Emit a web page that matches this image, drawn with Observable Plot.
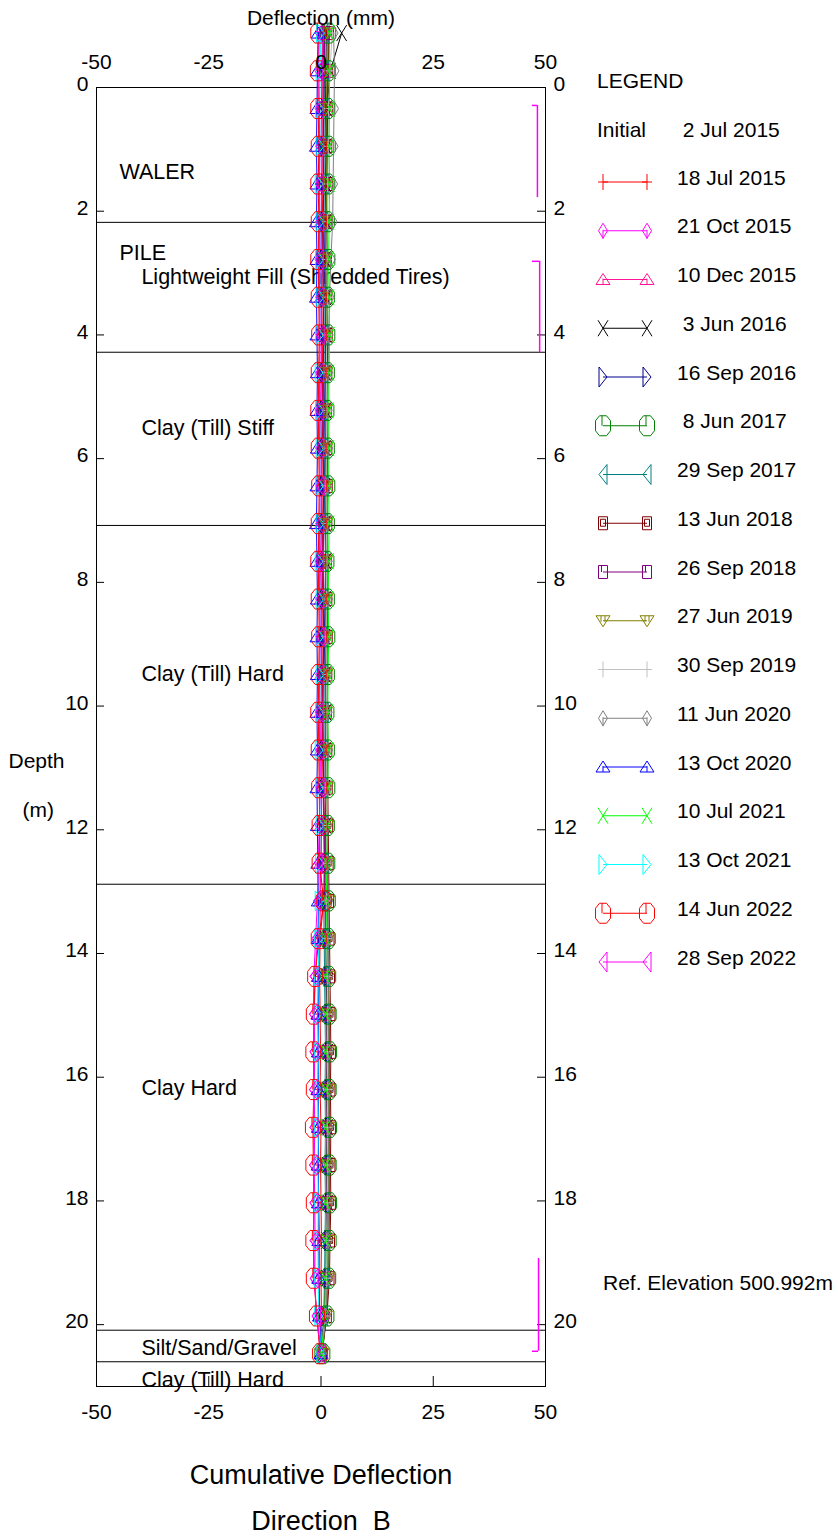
<!DOCTYPE html>
<html><head><meta charset="utf-8">
<script src="https://cdn.jsdelivr.net/npm/d3@7"></script>
<script src="https://cdn.jsdelivr.net/npm/@observablehq/plot@0.6"></script>
<style>body{margin:0;background:#fff} svg text{white-space:pre}</style>
</head><body><div id="chart"></div>
<script>
// ---------- DATA ----------
const depths = [-0.88,-0.27,0.34,0.95,1.56,2.17,2.78,3.39,4.00,4.61,5.22,5.83,6.44,7.05,7.66,8.27,8.88,9.49,10.10,10.71,11.32,11.93,12.54,13.15,13.76,14.37,14.98,15.59,16.20,16.81,17.42,18.03,18.64,19.25,19.86,20.47];

const initialDate = "2 Jul 2015";
const seriesNames = ["18 Jul 2015","21 Oct 2015","10 Dec 2015","3 Jun 2016","16 Sep 2016","8 Jun 2017","29 Sep 2017","13 Jun 2018","26 Sep 2018","27 Jun 2019","30 Sep 2019","11 Jun 2020","13 Oct 2020","10 Jul 2021","13 Oct 2021","14 Jun 2022","28 Sep 2022"];
const seriesColors = ["#ff0000","#ff00ff","#ff1493","#000000","#00008b","#008000","#008080","#800000","#800080","#808000","#c0c0c0","#808080","#0000ff","#00ff00","#00ffff","#ff0000","#ff00ff"];

const s_18Jul2015 = [0.6,0.5,0.4,0.5,0.4,0.3,0.4,0.5,0.4,0.3,0.4,0.3,0.2,0.3,0.4,0.3,0.2,0.3,0.4,0.3,0.5,0.8,1.0,0.6,-0.2,-0.3,-0.2,-0.1,-0.2,0.0,-0.1,0.0,0.1,0.0,0.1,0.0];
const s_21Oct2015 = [0.3,0.2,0.1,0.0,0.1,0.0,-0.1,0.0,0.1,0.0,-0.1,0.0,0.1,0.0,-0.1,0.0,0.0,0.1,0.0,-0.1,0.0,0.1,0.0,-0.3,-0.8,-1.3,-1.5,-1.4,-1.5,-1.4,-1.5,-1.4,-1.3,-1.4,-1.0,-0.1];
const s_10Dec2015 = [0.4,0.3,0.2,0.3,0.2,0.1,0.2,0.1,0.2,0.1,0.0,0.1,0.2,0.1,0.0,0.1,0.2,0.1,0.0,0.1,0.2,0.1,0.0,-0.1,-0.3,-0.6,-0.7,-0.6,-0.7,-0.6,-0.5,-0.6,-0.5,-0.4,-0.3,0.0];
const s_3Jun2016 = [4.6,2.1,1.3,1.2,1.1,1.2,1.0,1.1,1.2,1.0,1.1,1.0,0.9,1.0,1.1,1.0,0.9,1.0,1.1,1.0,0.9,1.1,1.2,1.1,1.0,1.2,1.4,1.5,1.4,1.5,1.4,1.5,1.3,1.2,0.9,0.1];
const s_16Sep2016 = [1.2,1.1,1.0,0.9,1.0,0.9,0.8,0.9,1.0,0.9,0.8,0.9,0.8,0.9,1.0,0.9,0.8,0.9,1.0,0.9,1.0,1.1,1.2,1.3,1.4,1.6,1.8,1.9,1.8,1.9,1.8,1.9,1.7,1.6,1.1,0.2];
const s_8Jun2017 = [1.6,1.5,1.4,1.5,1.4,1.3,1.4,1.3,1.4,1.3,1.2,1.3,1.4,1.3,1.2,1.3,1.4,1.3,1.2,1.3,1.4,1.3,1.4,1.5,1.5,1.6,1.7,1.8,1.7,1.8,1.7,1.8,1.7,1.6,1.2,0.3];
const s_29Sep2017 = [0.9,0.8,0.7,0.6,0.7,0.6,0.5,0.6,0.7,0.6,0.5,0.6,0.7,0.6,0.5,0.6,0.5,0.6,0.7,0.6,0.5,0.6,0.7,0.6,0.7,0.8,0.9,1.0,0.9,1.0,0.9,1.0,0.9,0.8,0.6,0.1];
const s_13Jun2018 = [1.8,1.6,1.5,1.4,1.5,1.4,1.3,1.4,1.5,1.4,1.3,1.4,1.5,1.4,1.3,1.4,1.5,1.4,1.3,1.4,1.5,1.6,1.7,1.8,1.9,2.0,2.1,2.2,2.1,2.2,2.1,2.2,2.0,1.9,1.3,0.2];
const s_26Sep2018 = [0.8,0.7,0.6,0.5,0.6,0.5,0.4,0.5,0.6,0.5,0.4,0.5,0.6,0.5,0.4,0.5,0.6,0.5,0.4,0.5,0.6,0.7,0.8,0.9,1.0,1.1,1.2,1.3,1.2,1.3,1.2,1.3,1.1,1.0,0.7,0.1];
const s_27Jun2019 = [1.4,1.3,1.2,1.1,1.2,1.1,1.0,1.1,1.2,1.1,1.0,1.1,1.2,1.1,1.0,1.1,1.2,1.1,1.0,1.1,1.2,1.3,1.4,1.5,1.5,1.6,1.7,1.8,1.7,1.8,1.7,1.8,1.6,1.5,1.0,0.2];
const s_30Sep2019 = [2.5,2.0,1.7,1.6,1.5,1.4,1.3,1.4,1.3,1.2,1.3,1.2,1.1,1.2,1.3,1.2,1.1,1.2,1.3,1.2,1.1,1.2,1.3,1.2,1.3,1.4,1.5,1.4,1.5,1.4,1.5,1.4,1.3,1.2,0.9,0.1];
const s_11Jun2020 = [2.8,3.0,2.9,2.8,2.7,2.6,2.2,1.9,1.7,1.6,1.5,1.6,1.5,1.4,1.5,1.6,1.5,1.4,1.5,1.6,1.5,1.4,1.5,1.6,1.6,1.7,1.8,1.7,1.8,1.7,1.8,1.7,1.6,1.5,1.1,0.2];
const s_13Oct2020 = [-0.6,-0.8,-0.9,-1.0,-0.9,-1.0,-0.9,-1.0,-0.9,-0.8,-0.9,-0.8,-0.9,-1.0,-0.9,-0.8,-0.9,-0.8,-0.9,-0.8,-0.9,-0.8,-0.7,-0.6,-0.6,-0.5,-0.6,-0.5,-0.6,-0.5,-0.6,-0.5,-0.4,-0.5,-0.3,0.0];
const s_10Jul2021 = [1.9,1.8,1.9,1.8,1.9,1.8,1.7,1.8,1.9,1.8,1.7,1.8,1.7,1.8,1.7,1.6,1.7,1.6,1.5,1.6,1.5,1.4,1.3,1.2,1.1,1.0,1.1,1.0,1.1,1.0,1.1,1.0,1.1,1.0,0.8,0.1];
const s_13Oct2021 = [-0.1,-0.2,-0.3,-0.2,-0.4,-0.2,-0.3,-0.2,-0.3,-0.4,-0.3,-0.2,-0.3,-0.2,-0.4,-0.2,-0.3,-0.2,-0.3,-0.4,-0.3,-0.2,-0.3,-0.4,-0.5,-0.6,-0.7,-0.6,-0.7,-0.6,-0.7,-0.6,-0.7,-0.6,-0.5,0.0];
const s_14Jun2022 = [-0.6,-0.7,-0.6,-0.5,-0.6,-0.5,-0.6,-0.5,-0.4,-0.5,-0.6,-0.5,-0.4,-0.5,-0.6,-0.5,-0.4,-0.5,-0.6,-0.5,-0.4,-0.3,-0.3,0.6,-0.5,-1.3,-1.6,-1.7,-1.6,-1.8,-1.7,-1.6,-1.7,-1.6,-0.9,-0.2];
const s_28Sep2022 = [-0.4,-0.5,-0.4,-0.3,-0.4,-0.3,-0.4,-0.3,-0.2,-0.3,-0.4,-0.3,-0.2,-0.3,-0.4,-0.3,-0.2,-0.3,-0.4,-0.3,-0.2,-0.4,-0.6,-0.8,-1.2,-1.6,-1.7,-1.6,-1.7,-1.6,-1.7,-1.6,-1.6,-1.5,-1.0,0.1];

const seriesValues = [s_18Jul2015,s_21Oct2015,s_10Dec2015,s_3Jun2016,s_16Sep2016,s_8Jun2017,s_29Sep2017,s_13Jun2018,s_26Sep2018,s_27Jun2019,s_30Sep2019,s_11Jun2020,s_13Oct2020,s_10Jul2021,s_13Oct2021,s_14Jun2022,s_28Sep2022];

const layerBoundaries = [2.18, 4.28, 7.08, 12.88, 20.09, 20.6];
const layerLabels = ["WALER","PILE","Lightweight Fill (Shredded Tires)","Clay (Till) Stiff","Clay (Till) Hard","Clay Hard","Silt/Sand/Gravel","Clay (Till) Hard"];
const layerLabelDepths = [1.37, 2.68, 3.07, 5.5, 9.49, 16.18, 20.38, 20.89];
const layerLabelX = [-44.9, -44.9, -40, -40, -40, -40, -40, -40];

const bracketX = [48.2, 48.7, 48.45];
const bracketTop = [0.29, 2.81, 18.93];
const bracketBottom = [1.78, 4.29, 20.43];
const bracketHookDepth = [0.29, 2.81, 20.43];
const bracketHookX = 47.1;

const xTicks = [-50, -25, 0, 25, 50];
const yTicks = [0, 2, 4, 6, 8, 10, 12, 14, 16, 18, 20];
const refElevation = "Ref. Elevation 500.992m";

// ---------- SYMBOLS ----------
const S = (f) => ({draw: f});
const symPlus = S(c => {c.moveTo(-5,0);c.lineTo(5,0);c.moveTo(0,-8);c.lineTo(0,8);});
const symDiamond = S(c => {c.moveTo(0,-7.5);c.lineTo(4.5,0);c.lineTo(0,7.5);c.lineTo(-4.5,0);c.closePath();c.moveTo(0,-1);c.lineTo(0,8);});
const symTriUp = S(c => {c.moveTo(0,-6);c.lineTo(7,5);c.lineTo(-7,5);c.closePath();c.moveTo(0,-1);c.lineTo(0,5);});
const symX = S(c => {c.moveTo(-5,-8);c.lineTo(5,8);c.moveTo(5,-8);c.lineTo(-5,8);});
const symTriRight = S(c => {c.moveTo(-4,-10);c.lineTo(4,0);c.lineTo(-4,10);c.closePath();});
const symOct = S(c => {c.moveTo(-3.5,-10);c.lineTo(3.5,-10);c.lineTo(7.5,-5);c.lineTo(7.5,5);c.lineTo(3.5,10);c.lineTo(-3.5,10);c.lineTo(-7.5,5);c.lineTo(-7.5,-5);c.closePath();c.moveTo(-1,-10);c.lineTo(-1,0);});
const symTriLeft = S(c => {c.moveTo(4,-10);c.lineTo(-4,0);c.lineTo(4,10);c.closePath();});
const symSqSq = S(c => {c.moveTo(-4.5,-6.5);c.lineTo(4.5,-6.5);c.lineTo(4.5,6.5);c.lineTo(-4.5,6.5);c.closePath();c.moveTo(-2.5,-4);c.lineTo(2.5,-4);c.lineTo(2.5,3);c.lineTo(-2.5,3);c.closePath();});
const symSq = S(c => {c.moveTo(-4.5,-6.5);c.lineTo(4.5,-6.5);c.lineTo(4.5,6.5);c.lineTo(-4.5,6.5);c.closePath();c.moveTo(-1.5,-6.5);c.lineTo(-1.5,0);});
const symTriDown = S(c => {c.moveTo(-7,-5);c.lineTo(7,-5);c.lineTo(0,6);c.closePath();c.moveTo(-2,-5);c.lineTo(-2,1);c.moveTo(2,-5);c.lineTo(2,1);});
const seriesSymbols = [symPlus,symDiamond,symTriUp,symX,symTriRight,symOct,symTriLeft,symSqSq,symSq,symTriDown,symPlus,symDiamond,symTriUp,symX,symTriRight,symOct,symTriLeft];

// ---------- TABLES ----------
const rows = seriesNames.flatMap((name, i) => depths.map((d, k) => ({series: name, depth: d, value: seriesValues[i][k]})));
const layerLabelRows = layerLabels.map((t, i) => ({text: t, depth: layerLabelDepths[i], x: layerLabelX[i]}));
const brackets = bracketX.map((x, i) => ({x, top: bracketTop[i], bottom: bracketBottom[i], hook: bracketHookDepth[i]}));

const FONT = "'Liberation Sans', Arial, Helvetica, sans-serif";

const chart = Plot.plot({
  width: 838, height: 1539,
  marginTop: 87, marginBottom: 153, marginLeft: 96, marginRight: 293,
  style: {fontFamily: FONT, fontSize: "21px", background: "#fff", color: "#000"},
  x: {domain: [-50, 50], axis: null},
  y: {domain: [0, 21], reverse: true, axis: null},
  color: {domain: seriesNames, range: seriesColors},
  symbol: {domain: seriesNames, range: seriesSymbols},
  marks: [
    Plot.ruleY(layerBoundaries, {y: d => d, x1: -50, x2: 50, stroke: "#000", strokeWidth: 1}),
    Plot.frame({stroke: "#000", strokeWidth: 1}),
    Plot.tickY(yTicks, {y: d => d, insetRight: 441, stroke: "#000"}),
    Plot.tickY(yTicks, {y: d => d, insetLeft: 441, stroke: "#000"}),
    Plot.tickX(xTicks.slice(1, 4), {x: d => d, insetTop: 1289, stroke: "#000"}),
    Plot.ruleX(brackets, {x: "x", y1: "top", y2: "bottom", stroke: "#ff00ff", strokeWidth: 1.5}),
    Plot.ruleY(brackets, {y: "hook", x1: bracketHookX, x2: "x", stroke: "#ff00ff", strokeWidth: 1.5}),
    Plot.text(layerLabelRows, {x: "x", y: "depth", text: "text", textAnchor: "start", lineAnchor: "middle", fontSize: 21.5, fill: "#000"}),
    Plot.line(rows, {x: "value", y: "depth", z: "series", stroke: "series", strokeWidth: 1}),
    Plot.dot(rows, {x: "value", y: "depth", stroke: "series", symbol: "series", fill: "none", r: 4, strokeWidth: 1}),
    // axis labels
    Plot.text(xTicks, {x: d => d, text: d => `${d}`, frameAnchor: "top", dy: -25, lineAnchor: "middle", fill: "#000"}),
    Plot.text(xTicks, {x: d => d, text: d => `${d}`, frameAnchor: "bottom", dy: 26, lineAnchor: "middle", fill: "#000"}),
    Plot.text(yTicks, {y: d => d, text: d => `${d}`, frameAnchor: "left", textAnchor: "end", dx: -8, dy: -3, lineAnchor: "middle", fill: "#000"}),
    Plot.text(yTicks, {y: d => d, text: d => `${d}`, frameAnchor: "right", textAnchor: "start", dx: 8, dy: -3, lineAnchor: "middle", fill: "#000"}),
    Plot.text(["Deflection (mm)"], {frameAnchor: "top", dy: -69, lineAnchor: "middle", fill: "#000"}),
    Plot.text(["Depth"], {frameAnchor: "top-left", dx: -88, dy: 674, textAnchor: "start", lineAnchor: "middle", fill: "#000"}),
    Plot.text(["(m)"], {frameAnchor: "top-left", dx: -74, dy: 723, textAnchor: "start", lineAnchor: "middle", fill: "#000"}),
    Plot.text(["Cumulative Deflection"], {frameAnchor: "bottom", dy: 89, lineAnchor: "middle", fontSize: 27, fill: "#000"}),
    Plot.text(["Direction  B"], {frameAnchor: "bottom", dy: 135, lineAnchor: "middle", fontSize: 27, fill: "#000"})
  ]
});
document.getElementById("chart").appendChild(chart);

// ---------- LEGEND ----------
const svg = d3.select(chart);
const lg = svg.append("g").attr("font-family", FONT).attr("font-size", 21).attr("fill", "#000").attr("text-anchor", "start");
lg.append("text").attr("x", 597).attr("y", 87.5).text("LEGEND");
lg.append("text").attr("x", 597).attr("y", 136.5).text("Initial");
const pad = s => (s.split(" ")[0].length === 1 ? " " + s : s);
lg.append("text").attr("x", 677).attr("y", 136.5).text(pad(initialDate));
seriesNames.forEach((name, i) => {
  const y = 182 + 48.75 * i;
  const c = seriesColors[i];
  lg.append("line").attr("x1", 603).attr("x2", 647).attr("y1", y).attr("y2", y).attr("stroke", c).attr("stroke-width", 1);
  [603, 647].forEach(x => {
    lg.append("path").attr("d", d3.symbol().type(seriesSymbols[i])()).attr("transform", `translate(${x},${y})`).attr("fill", "none").attr("stroke", c);
  });
  lg.append("text").attr("x", 677).attr("y", y + 2.5).text(pad(name));
});
lg.append("text").attr("x", 603).attr("y", 1289.5).text(refElevation);
</script></body></html>
